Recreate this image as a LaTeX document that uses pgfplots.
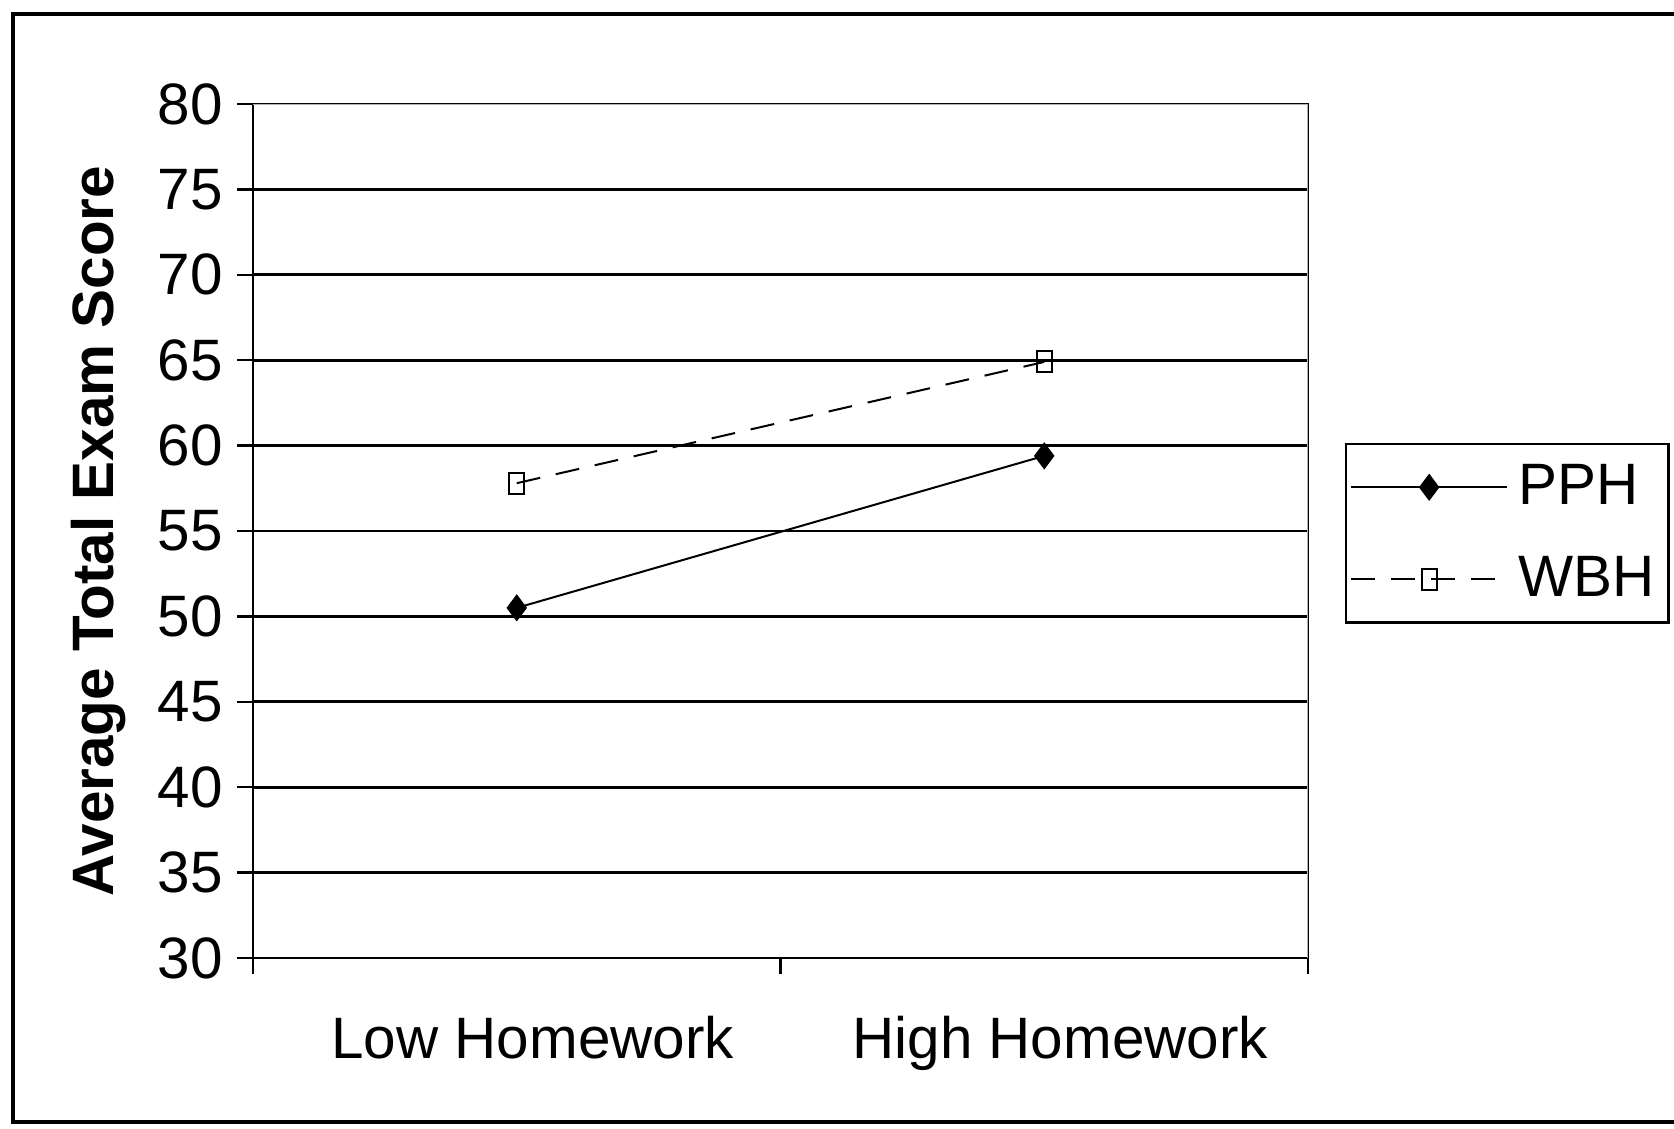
\documentclass[border=0pt]{standalone}
\usepackage{fontspec}
\setmainfont{Liberation Sans}
\usepackage{pgfplots}
\pgfplotsset{compat=1.18}

\begin{document}
\begin{tikzpicture}
% page size: 1674x1128 px at 4 px per pt
\useasboundingbox (-63.25pt,-42.5pt) rectangle (355.25pt,239.5pt);
\draw[line width=0.8pt] (400pt,236pt) -- (-60pt,236pt) -- (-60pt,-41pt) -- (400pt,-41pt);
\begin{axis}[
    at={(0,0)}, anchor=south west,
    scale only axis,
    width=263.75pt, height=213.5pt,
    xmin=0, xmax=2,
    ymin=30, ymax=80,
    ytick={30,35,...,80},
    xtick={0,1,2},
    xticklabels={},
    extra x ticks={0.5,1.5},
    extra x tick labels={Low Homework, High Homework},
    extra x tick style={major tick length=0pt, grid=none,
        xticklabel style={xshift=4pt}},
    tick align=outside,
    major tick length=4pt,
    xtick pos=bottom, ytick pos=left,
    tick style={black, line width=0.6pt},
    ymajorgrids,
    major grid style={black, line width=0.7pt},
    axis line style={black, line width=0.6pt},
    ticklabel style={font=\fontsize{14.6}{16}\selectfont},
    xticklabel shift=11pt,
    /pgf/number format/assume math mode=true,
    ylabel={\textbf{Average Total Exam Score}},
    every axis y label/.style={at={(-38.5pt,106.75pt)}, rotate=90, anchor=center,
        font=\fontsize{14.6}{16}\selectfont},
    legend style={at={(273pt,128.75pt)}, anchor=north west, draw=black, line width=0.6pt,
        font=\fontsize{14.6}{16}\selectfont, inner xsep=1pt, inner ysep=3pt, row sep=7.5pt,
        nodes={inner xsep=2.5pt}, cells={anchor=west}},
    legend cell align=left,
    legend image code/.code={
        \draw[mark repeat=2, mark phase=2] plot coordinates {(0pt,0pt) (19.5pt,0pt) (39pt,0pt)};
    },
]
\addplot[black, line width=0.5pt, mark=diamond*, mark size=3pt,
    mark options={solid, fill=black}] coordinates {(0.5,50.5) (1.5,59.4)};
\addlegendentry{PPH}
\addplot[black, line width=0.5pt, dash pattern=on 6pt off 4pt, mark=square, mark size=2.2pt,
    mark options={solid, fill=white, yscale=1.2, xscale=0.85}] coordinates {(0.5,57.8) (1.5,64.9)};
\addlegendentry{WBH}
\draw[gray!60, line width=0.6pt] (rel axis cs:0,1) -- (rel axis cs:1,1) -- (rel axis cs:1,0);
\end{axis}
\end{tikzpicture}
\end{document}
